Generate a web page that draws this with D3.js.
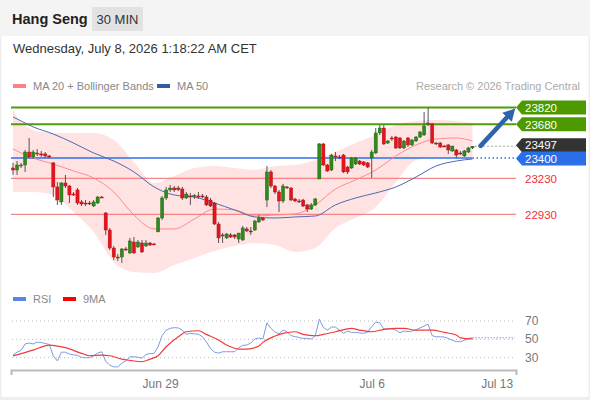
<!DOCTYPE html>
<html><head><meta charset="utf-8">
<script src="https://cdn.jsdelivr.net/npm/d3@7"></script>
<style>body{margin:0;background:#fff;font-family:"Liberation Sans",Arial,sans-serif}</style>
</head><body><svg id="c" width="590" height="400"></svg>
<script>
// ---- price data (30 min candles) ----
const opens=[23316,23299,23333,23341,23449,23408,23441,23433,23433,23416,
23358,23158,23033,23191,23166,23099,23133,23033,23024,23024,
22999,23024,23074,22941,22799,22649,22574,22574,22641,22608,
22699,22658,22691,22666,22691,22683,22783,22899,23066,23133,
23149,23149,23141,23066,23083,23083,23083,23083,23074,23049,
23024,22849,22758,22733,22758,22758,22724,22716,22808,22791,
22799,22866,22899,23049,23283,23166,23116,23041,23158,23149,
23058,23041,23049,23008,22974,23008,23224,23516,23341,23299,
23416,23408,23424,23324,23316,23349,23374,23366,23358,23399,
23441,23608,23649,23524,23566,23574,23566,23483,23566,23508,
23541,23574,23591,23683,23683,23524,23524,23499,23508,23458,
23466,23441,23416,23449,23483];
const highs=[23358,23374,23358,23466,23566,23466,23474,23458,23449,23424,
23366,23199,23199,23258,23174,23116,23149,23049,23049,23041,
23049,23083,23083,22949,22816,22666,22599,22649,22658,22733,
22741,22716,22716,22716,22699,22691,22908,23083,23158,23174,
23166,23166,23158,23116,23108,23099,23116,23099,23091,23066,
23033,22866,22774,22774,22774,22766,22774,22833,22824,22824,
22883,22924,22908,23333,23299,23174,23133,23183,23166,23158,
23066,23058,23058,23016,23024,23066,23524,23524,23349,23433,
23449,23424,23433,23333,23408,23408,23383,23374,23366,23466,
23649,23674,23674,23549,23583,23583,23574,23549,23574,23558,
23583,23624,23783,23816,23691,23533,23533,23508,23516,23499,
23474,23458,23466,23491,23499];
const lows=[23258,23258,23316,23283,23399,23391,23416,23408,23399,23399,
23074,23008,23008,23149,23024,23083,23008,22999,22999,23008,
22991,23016,23066,22758,22633,22549,22541,22524,22624,22599,
22599,22649,22608,22658,22666,22674,22783,22883,23049,23116,
23116,23124,23049,23058,23008,23058,23058,23066,22999,22991,
22841,22691,22691,22724,22733,22724,22691,22708,22783,22758,
22791,22858,22874,22991,23149,23099,22949,23024,23141,23041,
23033,23024,22991,22949,22966,22999,23224,23333,23283,23291,
23374,23391,23274,23266,23308,23341,23341,23333,23316,23233,
23433,23591,23508,23516,23541,23474,23474,23474,23491,23499,
23533,23566,23583,23666,23516,23508,23483,23491,23433,23449,
23399,23424,23408,23441,23474];
const closes=[23299,23341,23341,23449,23408,23449,23433,23427,23416,23410,
23158,23049,23191,23166,23091,23093,23024,23016,23020,23022,
23033,23074,23071,22799,22649,22574,22570,22641,22638,22708,
22608,22699,22616,22691,22674,22680,22899,23066,23133,23149,
23133,23136,23066,23099,23080,23086,23078,23080,23008,22999,
22849,22733,22754,22766,22741,22741,22774,22816,22791,22787,
22874,22899,22883,23283,23166,23116,23041,23166,23155,23049,
23041,23038,22999,22974,23008,23058,23516,23341,23291,23424,
23410,23404,23283,23283,23399,23399,23349,23341,23324,23449,
23608,23649,23516,23541,23558,23483,23483,23541,23508,23549,
23574,23616,23666,23691,23524,23520,23491,23495,23466,23499,
23424,23438,23458,23483,23497];

// ---- indicator samples (candle index -> value) ----
const indIdx=[0,2,5,10,15,20,25,30,35,40,45,50,55,60,65,70,75,80,85,90,95,100,105,110,114];
const bbUpper=[23799,23699,23633,23608,23608,23608,23549,23366,23191,23249,23316,23333,23316,23299,23333,23341,23383,23449,23524,23591,23674,23708,23716,23708,23691];
const bbLower=[23116,23116,23116,23091,22949,22783,22533,22449,22441,22508,22566,22624,22666,22691,22674,22616,22649,22816,22899,22991,23199,23383,23408,23408,23408];
const ma20=[23474,23441,23399,23349,23291,23233,23116,22924,22808,22808,22891,22974,22966,22916,22924,22933,23008,23141,23216,23299,23416,23508,23558,23566,23541];
const ma50=[23741,23708,23658,23599,23524,23441,23374,23283,23158,23091,23074,23024,22966,22908,22899,22908,22916,23008,23066,23108,23158,23241,23333,23374,23391];

// ---- levels ----
const resistances=[23820,23680];
const supports=[23230,22930];
const pivot=23400;
const lastPrice=23497;

// ---- RSI ----
const rsi=[33,36,38,45,46,45,47,46.5,45.5,44.5,
32,26.5,36,36,34,33,32.5,30.5,30,30,
32,35,36.5,26,22,20,20,24,26.5,31,
31,30.5,29.5,33.5,34.5,34.7,42,54,60,62,
62.7,62.5,60,55.5,56.5,56,55.6,53,47,40,
36,35,36.5,36.5,36.5,36.5,41,43.5,43.8,46,
50.5,51.5,50.5,68,62,58,56,60,58.5,54,
53,52,51,51,50.3,54,72,63,60,63.5,
63.3,60,56.5,59,57.6,57.6,57,56.5,58,64,
68.8,68,61.3,61.3,61.5,60,57.2,59,58.5,59,
60.5,62.5,64.5,66.5,54,52.8,52.8,52.5,51,49,
47.5,47.5,49,51,51.7];
const rsiMaIdx=[0,5,9,13,17,19,22,24,27,29,32,34,36,38,41,43,46,48,51,53,56,58,61,62,65,67,70,72,75,77,80,84,86,89,92,95,97,100,104,107,110,111,114];
const rsiMa=[32,38.3,43.8,40.9,34.7,32.1,32.9,32.1,28.5,27.1,25.6,28.5,32.1,41.9,52.8,58.3,59.4,55.4,49.2,43.8,39.4,39.4,42.7,46.7,53.6,56.5,58.3,55.4,53.9,55.4,58.3,62,60.1,58.3,60.9,62,62,60.1,60.1,57.6,54.7,51.7,50.5];
const rsiLevels=[70,50,30];

// ---- x-axis ----
const tickIdx=[36.5,89,120];
const tickLabels=["Jun 29","Jul 6","Jul 13"];

const svg=d3.select("#c");
const F='"Liberation Sans",Arial,sans-serif';

// frame
svg.append("rect").attr("x",0).attr("y",0).attr("width",590).attr("height",400).attr("fill","#eeeeee");
svg.append("rect").attr("x",0).attr("y",0).attr("width",590).attr("height",36).attr("fill","#f4f4f4");
svg.append("rect").attr("x",1.5).attr("y",36).attr("width",587).attr("height",361).attr("fill","#fff");

// header
svg.append("text").attr("x",12).attr("y",24).attr("font-family",F).attr("font-size",14.5).attr("font-weight","bold").attr("fill","#222").text("Hang Seng");
svg.append("rect").attr("x",92).attr("y",7).attr("width",51).attr("height",24).attr("fill","#e2e2e2");
svg.append("text").attr("x",117.5).attr("y",24).attr("text-anchor","middle").attr("font-family",F).attr("font-size",13).attr("fill","#333").text("30 MIN");
svg.append("text").attr("x",13).attr("y",53).attr("font-family",F).attr("font-size",13).attr("fill","#333").text("Wednesday, July 8, 2026 1:18:22 AM CET");

// legend
function leg(x,y,color,label){
  svg.append("rect").attr("x",x).attr("y",y-6).attr("width",13).attr("height",4).attr("fill",color);
  svg.append("text").attr("x",x+20).attr("y",y).attr("font-family",F).attr("font-size",11).attr("fill","#888").text(label);
}
leg(13,90,"#ff8080","MA 20 + Bollinger Bands");
leg(157,90,"#2f5ea8","MA 50");
svg.append("text").attr("x",580).attr("y",90).attr("text-anchor","end").attr("font-family",F).attr("font-size",11).attr("fill","#aaa").text("Research \u00a9 2026 Trading Central");
leg(13,303,"#5b84e6","RSI");
leg(63,303,"#ff0000","9MA");

// scales
const x=d3.scaleLinear().domain([-0.5,124.8]).range([11,516]);
const y=d3.scaleLinear().domain([22930,23820]).range([214.3,107.5]);
const yr=d3.scaleLinear().domain([30,70]).range([357.7,321]);
const n=closes.length;
const xEnd=516;

// bollinger band
const bandData=indIdx.map((d,i)=>({i:d,u:bbUpper[i],l:bbLower[i],m:ma20[i],s:ma50[i]}));
svg.append("path").datum(bandData)
  .attr("d",d3.area().x(d=>x(d.i)).y0(d=>y(d.l)).y1(d=>y(d.u)).curve(d3.curveMonotoneX))
  .attr("fill","#ffdede").attr("opacity",0.85);

// level lines
resistances.forEach(v=>{
  svg.append("line").attr("x1",11).attr("x2",xEnd).attr("y1",y(v)).attr("y2",y(v)).attr("stroke","#4f9c08").attr("stroke-width",2);
});
supports.forEach(v=>{
  svg.append("line").attr("x1",11).attr("x2",xEnd).attr("y1",y(v)).attr("y2",y(v)).attr("stroke","#f26b6b").attr("stroke-width",1);
});
svg.append("line").attr("x1",11).attr("x2",x(n-1)).attr("y1",y(pivot)).attr("y2",y(pivot)).attr("stroke","#2f6fe8").attr("stroke-width",1.5);
svg.append("line").attr("x1",x(n-1)).attr("x2",xEnd).attr("y1",y(pivot)).attr("y2",y(pivot)).attr("stroke","#2f6fe8").attr("stroke-width",1.5).attr("stroke-dasharray","1.5,2.5");
svg.append("line").attr("x1",x(n-1)+3).attr("x2",xEnd).attr("y1",y(lastPrice)).attr("y2",y(lastPrice)).attr("stroke","#555").attr("stroke-width",1).attr("stroke-dasharray","1,3");

// MA lines
svg.append("path").datum(bandData).attr("d",d3.line().x(d=>x(d.i)).y(d=>y(d.m)).curve(d3.curveMonotoneX))
  .attr("fill","none").attr("stroke","#ff8a8a").attr("stroke-width",1);
svg.append("path").datum(bandData).attr("d",d3.line().x(d=>x(d.i)).y(d=>y(d.s)).curve(d3.curveMonotoneX))
  .attr("fill","none").attr("stroke","#4a6bb0").attr("stroke-width",1);

// candles
const cd=d3.range(n).map(i=>({i,o:opens[i],h:highs[i],l:lows[i],c:closes[i]}));
const g=svg.append("g");
g.selectAll("line.w").data(cd).join("line").attr("class","w")
  .attr("x1",d=>x(d.i)).attr("x2",d=>x(d.i)).attr("y1",d=>y(d.h)).attr("y2",d=>y(d.l))
  .attr("stroke","#555").attr("stroke-width",1);
g.selectAll("rect.b").data(cd).join("rect").attr("class","b")
  .attr("x",d=>x(d.i)-1.6).attr("width",3.2)
  .attr("y",d=>y(Math.max(d.o,d.c)))
  .attr("height",d=>Math.max(1,Math.abs(y(d.o)-y(d.c))))
  .attr("fill",d=>d.c>=d.o?"#2f8a1e":"#e5141c")
  .attr("stroke",d=>d.c>=d.o?"#1f5f14":"#a01015").attr("stroke-width",0.4);

// arrow
const ax1=x(116),ay1=y(23500),ax2=x(124.6),ay2=y(23812);
const ang=Math.atan2(ay2-ay1,ax2-ax1);
const hl=12,hw=6.5;
const bx=ax2-hl*Math.cos(ang),by=ay2-hl*Math.sin(ang);
svg.append("line").attr("x1",ax1).attr("y1",ay1).attr("x2",bx).attr("y2",by).attr("stroke","#2e64ad").attr("stroke-width",4.5).attr("stroke-linecap","round");
svg.append("path").attr("d",`M${ax2},${ay2}L${bx+hw*Math.sin(ang)},${by-hw*Math.cos(ang)}L${bx-hw*Math.sin(ang)},${by+hw*Math.cos(ang)}Z`).attr("fill","#2e64ad");

// price tags
function tag(v,color,dy,tdy){
  const cy=y(v)+dy;
  svg.append("path").attr("d",`M516,${cy}L522,${cy-7}H586V${cy+7}H522Z`).attr("fill",color);
  svg.append("text").attr("x",525).attr("y",cy+tdy).attr("font-family",F).attr("font-size",11.5).attr("fill","#fff").text(v);
}
tag(resistances[0],"#4c9a00",0,4.2);
tag(resistances[1],"#4c9a00",0,4.2);
tag(lastPrice,"#333333",-1,3.6);
tag(pivot,"#2a6ee8",0.5,4.6);
supports.forEach(v=>{
  svg.append("text").attr("x",525).attr("y",y(v)+4.2).attr("font-family",F).attr("font-size",11.5).attr("fill","#f03030").text(v);
});

// RSI panel
rsiLevels.forEach(v=>{
  svg.append("line").attr("x1",12).attr("x2",515).attr("y1",yr(v)).attr("y2",yr(v)).attr("stroke","#bbb").attr("stroke-width",1).attr("stroke-dasharray","1,3");
  svg.append("text").attr("x",525).attr("y",yr(v)+4).attr("font-family",F).attr("font-size",12).attr("fill","#777").text(v);
});
svg.append("line").attr("x1",x(n-1)).attr("x2",515).attr("y1",yr(rsi[n-1])).attr("y2",yr(rsi[n-1])).attr("stroke","#a9bdf0").attr("stroke-width",1.5).attr("stroke-dasharray","1.5,1.5");
svg.append("path").datum(rsi).attr("d",d3.line().x((d,i)=>x(i)).y(d=>yr(d)))
  .attr("fill","none").attr("stroke","#7b9be8").attr("stroke-width",1);
svg.append("path").datum(rsiMaIdx.map((d,i)=>[d,rsiMa[i]])).attr("d",d3.line().x(d=>x(d[0])).y(d=>yr(d[1])).curve(d3.curveMonotoneX))
  .attr("fill","none").attr("stroke","#f23a3a").attr("stroke-width",1.2);

// x axis
const axis=d3.axisBottom(x).tickValues(tickIdx).tickFormat((d,i)=>tickLabels[i]).tickSizeInner(0).tickSizeOuter(5).tickPadding(9);
const ag=svg.append("g").attr("transform","translate(0,370)").call(axis);
ag.select(".domain").attr("stroke","#bbb").attr("stroke-width",2);
ag.selectAll("text").attr("font-family",F).attr("font-size",12).attr("fill","#777");
</script></body></html>
